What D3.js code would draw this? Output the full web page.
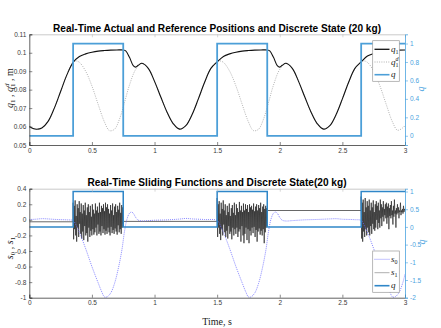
<!DOCTYPE html>
<html>
<head>
<meta charset="utf-8">
<script src="https://cdn.jsdelivr.net/npm/d3@7"></script>
<style>
body { margin: 0; background: #fff; }
</style>
</head>
<body>
<script>
// ---- data ----
var xTicks = [0, 0.5, 1, 1.5, 2, 2.5, 3];
var posTicks = [0.05, 0.06, 0.07, 0.08, 0.09, 0.1, 0.11];
var qTopTicks = [0, 0.2, 0.4, 0.6, 0.8, 1];
var slideTicks = [-1, -0.8, -0.6, -0.4, -0.2, 0, 0.2, 0.4];
var qBotTicks = [-2, -1.5, -1, -0.5, 0, 0.5, 1];

// actual position q1 [t, m]
var q1 = [
  [0, 0.0600], [0.03, 0.0589], [0.06, 0.0585], [0.1, 0.0592], [0.15, 0.0628], [0.2, 0.0700],
  [0.25, 0.0790], [0.3, 0.0880], [0.35, 0.0948], [0.4, 0.0980], [0.45, 0.0994], [0.5, 0.1003],
  [0.55, 0.1009], [0.6, 0.1012], [0.65, 0.1014], [0.7, 0.1015], [0.75, 0.1015], [0.77, 0.1010],
  [0.8, 0.0975], [0.83, 0.0930], [0.85, 0.0922], [0.87, 0.0932], [0.9, 0.0943], [0.95, 0.0915],
  [1.0, 0.0845], [1.05, 0.0760], [1.1, 0.0678], [1.15, 0.0615], [1.2, 0.0586], [1.25, 0.0605],
  [1.3, 0.0665], [1.35, 0.0750], [1.4, 0.0840], [1.45, 0.0915], [1.5, 0.0950], [1.55, 0.0980],
  [1.6, 0.0994], [1.65, 0.1003], [1.7, 0.1009], [1.75, 0.1012], [1.8, 0.1014], [1.85, 0.1015],
  [1.9, 0.1015], [1.92, 0.1010], [1.95, 0.0975], [1.98, 0.0930], [2.0, 0.0922], [2.02, 0.0932],
  [2.05, 0.0943], [2.1, 0.0915], [2.15, 0.0845], [2.2, 0.0760], [2.25, 0.0678], [2.3, 0.0615],
  [2.35, 0.0586], [2.4, 0.0605], [2.45, 0.0665], [2.5, 0.0750], [2.55, 0.0840], [2.6, 0.0915],
  [2.65, 0.0950], [2.7, 0.0982], [2.75, 0.0996], [2.8, 0.1004], [2.85, 0.1009], [2.9, 0.1012],
  [2.95, 0.1014], [3.0, 0.1015]
];

// reference position q1^d [t, m]
var q1d = [
  [0, 0.0600], [0.03, 0.0589], [0.06, 0.0585], [0.1, 0.0592], [0.15, 0.0628], [0.2, 0.0700],
  [0.25, 0.0790], [0.3, 0.0880], [0.35, 0.0950], [0.37, 0.0956], [0.4, 0.0948], [0.45, 0.0900],
  [0.5, 0.0820], [0.55, 0.0720], [0.6, 0.0625], [0.64, 0.0578], [0.68, 0.0585], [0.72, 0.0640],
  [0.76, 0.0730], [0.8, 0.0825], [0.85, 0.0910], [0.9, 0.0943], [0.95, 0.0915], [1.0, 0.0845],
  [1.05, 0.0760], [1.1, 0.0678], [1.15, 0.0615], [1.2, 0.0586], [1.25, 0.0605], [1.3, 0.0665],
  [1.35, 0.0750], [1.4, 0.0840], [1.45, 0.0915], [1.5, 0.0952], [1.52, 0.0956], [1.55, 0.0948],
  [1.6, 0.0900], [1.65, 0.0820], [1.7, 0.0720], [1.75, 0.0625], [1.79, 0.0578], [1.83, 0.0585],
  [1.87, 0.0640], [1.91, 0.0730], [1.95, 0.0825], [2.0, 0.0910], [2.05, 0.0943], [2.1, 0.0915],
  [2.15, 0.0845], [2.2, 0.0760], [2.25, 0.0678], [2.3, 0.0615], [2.35, 0.0586], [2.4, 0.0605],
  [2.45, 0.0665], [2.5, 0.0750], [2.55, 0.0840], [2.6, 0.0915], [2.65, 0.0952], [2.67, 0.0956],
  [2.7, 0.0948], [2.75, 0.0900], [2.8, 0.0820], [2.85, 0.0720], [2.9, 0.0625], [2.94, 0.0580],
  [2.98, 0.0592], [3.0, 0.0605]
];

// discrete state q switching times and levels
var qSwitch = [0, 0.35, 0.75, 1.5, 1.9, 2.65, 3];
var qLevel = [0, 1, 0, 1, 0, 1];

// sliding function s0 [t, value]
var s0 = [
  [0, 0.004], [0.05, 0.008], [0.1, 0.015], [0.15, 0.012], [0.2, 0.006], [0.25, 0.003], [0.3, 0.0],
  [0.35, -0.01], [0.38, -0.09], [0.41, -0.2], [0.45, -0.37], [0.5, -0.6], [0.55, -0.81], [0.58, -0.93],
  [0.6, -0.99], [0.62, -0.99], [0.65, -0.94], [0.68, -0.82], [0.71, -0.63], [0.74, -0.38], [0.76, -0.15],
  [0.78, 0.01], [0.8, 0.085], [0.815, 0.1], [0.83, 0.085], [0.85, 0.03], [0.87, -0.005], [0.9, -0.015],
  [0.95, -0.01], [1.0, -0.005], [1.1, 0.0], [1.2, 0.01], [1.25, 0.018], [1.3, 0.012], [1.4, 0.004],
  [1.5, -0.008], [1.53, -0.09], [1.56, -0.2], [1.6, -0.37], [1.65, -0.6], [1.7, -0.81], [1.73, -0.93],
  [1.75, -0.99], [1.77, -0.99], [1.8, -0.94], [1.83, -0.82], [1.86, -0.63], [1.89, -0.38], [1.91, -0.15],
  [1.93, 0.01], [1.95, 0.085], [1.965, 0.1], [1.98, 0.085], [2.0, 0.03], [2.02, -0.005], [2.05, -0.015],
  [2.1, -0.01], [2.2, 0.0], [2.3, 0.005], [2.4, 0.012], [2.45, 0.015], [2.5, 0.008], [2.6, 0.002],
  [2.65, -0.008], [2.68, -0.09], [2.71, -0.2], [2.75, -0.37], [2.8, -0.6], [2.85, -0.81], [2.88, -0.93],
  [2.9, -0.99], [2.92, -0.99], [2.95, -0.94], [2.98, -0.82], [3.0, -0.7]
];

// sliding function s1: level while q = 0, chattering samples while q = 1
var s1Rest = [[0, 0.35, -0.025], [0.75, 1.5, -0.02], [1.9, 2.65, 0.12]];
var s1Chatter1 = [
  0.22, -0.25, 0.18, -0.12, 0.25, -0.2, 0.05, -0.28, 0.2, -0.1,
  0.15, -0.22, 0.24, -0.05, 0.1, -0.18, 0.21, -0.24, 0.08, -0.15,
  0.19, -0.26, 0.12, -0.08, 0.22, -0.2, 0.06, -0.17, 0.16, -0.28,
  0.2, -0.1, 0.1, -0.22, 0.18, -0.14, 0.04, -0.2, 0.2, -0.12,
  0.13, -0.19, 0.08, -0.16, 0.21, -0.1, 0.12, -0.2, 0.17, -0.06,
  0.09, -0.18, 0.22, -0.15, 0.1, -0.2, 0.18, -0.08, 0.15, -0.17,
  0.2, -0.12, 0.11, -0.19, 0.22, -0.14, 0.16, -0.18, 0.2, -0.1,
  0.14, -0.16, 0.08, -0.2, 0.19, -0.09, 0.12, -0.17, 0.21, -0.13,
  0.06, -0.18, 0.17, -0.11, 0.2, -0.15, 0.1, -0.19, 0.18, -0.07,
  0.13, -0.16, 0.22, -0.12, 0.09, -0.18, 0.19, -0.1, 0.16, -0.05
];
var s1Chatter2 = [
  0.28, -0.22, 0.2, -0.1, 0.24, -0.18, 0.08, -0.26, 0.22, -0.12,
  0.14, -0.2, 0.25, -0.06, 0.12, -0.16, 0.2, -0.22, 0.06, -0.14,
  0.18, -0.24, 0.1, -0.08, 0.21, -0.18, 0.05, -0.15, 0.15, -0.25,
  0.19, -0.1, 0.09, -0.2, 0.22, -0.12, 0.06, -0.18, 0.2, -0.1,
  0.15, -0.22, 0.1, -0.15, 0.23, -0.12, 0.12, -0.28, 0.18, -0.08,
  0.1, -0.2, 0.21, -0.3, 0.12, -0.18, 0.2, -0.1, 0.14, -0.26,
  0.19, -0.12, 0.1, -0.3, 0.2, -0.14, 0.16, -0.2, 0.18, -0.1,
  0.13, -0.17, 0.21, -0.09, 0.11, -0.22, 0.17, -0.13, 0.2, -0.28,
  0.12, -0.15, 0.19, -0.11, 0.15, -0.19, 0.22, -0.14, 0.1, -0.2,
  0.17, -0.12, 0.2, -0.3, 0.14, -0.16, 0.18, -0.1, 0.15, -0.08
];
var s1Chatter3 = [
  0.3, -0.24, 0.22, -0.28, 0.26, -0.15, 0.1, -0.22, 0.28, -0.12,
  0.16, -0.2, 0.24, -0.1, 0.18, -0.16, 0.26, -0.2, 0.12, -0.08,
  0.22, -0.18, 0.16, -0.05, 0.25, -0.12, 0.1, -0.14, 0.2, -0.1,
  0.24, 0.0, 0.18, -0.12, 0.22, -0.04, 0.12, -0.1, 0.26, 0.02,
  0.2, -0.08, 0.16, 0.04, 0.24, -0.02, 0.14, 0.06, 0.2, 0.02,
  0.22, -0.05, 0.17, 0.03, 0.21, -0.12, 0.15, 0.05, 0.19, 0.02,
  0.24, 0.06, 0.12, -0.06, 0.18, 0.04, 0.26, 0.08, 0.12, -0.1,
  0.15, 0.07, 0.2, 0.09, 0.16, 0.02, 0.12, 0.1, 0.22, 0.06,
  0.12, 0.1, 0.14, 0.08, 0.18, 0.1, 0.14, 0.12
];

// ---- layout ----
var W = 441, H = 328;
var LEFT = 29.3, RIGHT = 405;
var TOP1 = 34.3, BOT1 = 145, TOP2 = 188.7, BOT2 = 297.7;
var AX = "#3a3a3a", QBLUE = "#4c9fd8", QAXIS = "#4aa3e0";

var svg = d3.select("body").append("svg")
  .attr("width", W).attr("height", H)
  .style("font-family", "'Liberation Sans', Arial, sans-serif");

var x = d3.scaleLinear().domain([0, 3]).range([LEFT, RIGHT]);
var yPos = d3.scaleLinear().domain([0.05, 0.11]).range([BOT1, TOP1]);
var qTop = d3.scaleLinear().domain([-0.1, 1.1]).range([BOT1, TOP1]);
var ySl = d3.scaleLinear().domain([-1, 0.4]).range([BOT2, TOP2]);
var qBot = d3.scaleLinear().domain([-2, 1.08]).range([BOT2, TOP2]);

// step path for q
var qPts = [];
qLevel.forEach(function (v, i) { qPts.push([qSwitch[i], v], [qSwitch[i + 1], v]); });

function styleAxis(g, color) {
  g.select(".domain").attr("stroke", color).attr("stroke-width", 0.8);
  g.selectAll(".tick line").attr("stroke", color).attr("stroke-width", 0.6);
  g.selectAll(".tick text").attr("fill", color).attr("font-size", 6.5);
}

function drawFrame(top, bottom, yScale, yTicks, qScale, qTicks) {
  // top edge of the box
  svg.append("g").attr("transform", "translate(0," + top + ")")
    .call(d3.axisTop(x).tickValues(xTicks).tickSize(-3).tickFormat(""))
    .call(styleAxis, "#bdbdbd");
  svg.append("g").attr("transform", "translate(0," + bottom + ")")
    .call(d3.axisBottom(x).tickValues(xTicks).tickSize(-3).tickPadding(3).tickFormat(String))
    .call(styleAxis, AX);
  svg.append("g").attr("transform", "translate(" + LEFT + ",0)")
    .call(d3.axisLeft(yScale).tickValues(yTicks).tickSize(-3).tickPadding(3).tickFormat(String))
    .call(styleAxis, AX);
  svg.append("g").attr("transform", "translate(" + RIGHT + ",0)")
    .call(d3.axisRight(qScale).tickValues(qTicks).tickSize(3).tickPadding(2).tickFormat(String))
    .call(styleAxis, QAXIS);
}

function clip(id, top, bottom) {
  svg.append("clipPath").attr("id", id).append("rect")
    .attr("x", LEFT).attr("y", top).attr("width", RIGHT - LEFT).attr("height", bottom - top);
}
clip("c1", TOP1 - 1, BOT1 + 1);
clip("c2", TOP2 - 1, BOT2 + 1);

// ---- top panel: positions ----
var p1 = svg.append("g").attr("clip-path", "url(#c1)");
p1.append("path").datum(q1d)
  .attr("d", d3.line().x(function (d) { return x(d[0]); }).y(function (d) { return yPos(d[1]); }).curve(d3.curveCatmullRom))
  .attr("fill", "none").attr("stroke", "#9e9e9e").attr("stroke-width", 0.8).attr("stroke-dasharray", "1,1.3");
p1.append("path").datum(q1)
  .attr("d", d3.line().x(function (d) { return x(d[0]); }).y(function (d) { return yPos(d[1]); }).curve(d3.curveCatmullRom))
  .attr("fill", "none").attr("stroke", "#111").attr("stroke-width", 1.1);
p1.append("path").datum(qPts)
  .attr("d", d3.line().x(function (d) { return x(d[0]); }).y(function (d) { return qTop(d[1]); }))
  .attr("fill", "none").attr("stroke", QBLUE).attr("stroke-width", 1.8);

drawFrame(TOP1, BOT1, yPos, posTicks, qTop, qTopTicks);

// ---- bottom panel: sliding functions ----
var s1Pts = [];
[s1Chatter1, s1Chatter2, s1Chatter3].forEach(function (vals, k) {
  var r = s1Rest[k];
  s1Pts.push([r[0], r[2]], [r[1], r[2]]);
  var t0 = qSwitch[2 * k + 1], t1 = qSwitch[2 * k + 2];
  vals.forEach(function (v, i) { s1Pts.push([t0 + (t1 - t0) * i / (vals.length - 1), v]); });
});

var p2 = svg.append("g").attr("clip-path", "url(#c2)");
p2.append("path").datum(s1Pts)
  .attr("d", d3.line().x(function (d) { return x(d[0]); }).y(function (d) { return ySl(d[1]); }))
  .attr("fill", "none").attr("stroke", "#262626").attr("stroke-width", 0.7);
p2.append("path").datum(s0)
  .attr("d", d3.line().x(function (d) { return x(d[0]); }).y(function (d) { return ySl(d[1]); }).curve(d3.curveCatmullRom))
  .attr("fill", "none").attr("stroke", "#6b6bff").attr("stroke-width", 0.8).attr("stroke-dasharray", "1,1");
p2.append("path").datum(qPts)
  .attr("d", d3.line().x(function (d) { return x(d[0]); }).y(function (d) { return qBot(d[1]); }))
  .attr("fill", "none").attr("stroke", "#2f86c8").attr("stroke-width", 1.5);

drawFrame(TOP2, BOT2, ySl, slideTicks, qBot, qBotTicks);

// ---- titles and labels ----
svg.append("text").attr("x", 217).attr("y", 31.5).attr("text-anchor", "middle")
  .attr("font-weight", "bold").attr("font-size", 10.5).attr("fill", "#000")
  .attr("textLength", 328).attr("lengthAdjust", "spacingAndGlyphs")
  .text("Real-Time Actual and Reference Positions and Discrete State (20 kg)");
svg.append("text").attr("x", 217).attr("y", 185.7).attr("text-anchor", "middle")
  .attr("font-weight", "bold").attr("font-size", 10.5).attr("fill", "#000")
  .attr("textLength", 259).attr("lengthAdjust", "spacingAndGlyphs")
  .text("Real-Time Sliding Functions and Discrete State(20 kg)");

var serif = "'Liberation Serif', 'DejaVu Serif', serif";

var yl1 = svg.append("text").attr("transform", "translate(13,88) rotate(-90)")
  .attr("text-anchor", "middle").attr("font-family", serif).attr("font-size", 10).attr("fill", "#222");
yl1.append("tspan").attr("font-style", "italic").text("q");
yl1.append("tspan").attr("font-size", 7).attr("dy", 2).text("1");
yl1.append("tspan").attr("dy", -2).text(" , ");
yl1.append("tspan").attr("font-style", "italic").text("q");
yl1.append("tspan").attr("font-size", 7).attr("dy", 2).text("1");
yl1.append("tspan").attr("font-size", 7).attr("font-style", "italic").attr("dx", -3.5).attr("dy", -6).text("d");
yl1.append("tspan").attr("dy", 4).text(" , m");

var yl2 = svg.append("text").attr("transform", "translate(13,248) rotate(-90)")
  .attr("text-anchor", "middle").attr("font-family", serif).attr("font-size", 10).attr("fill", "#222");
yl2.append("tspan").attr("font-style", "italic").text("s");
yl2.append("tspan").attr("font-size", 7).attr("dy", 2).text("0");
yl2.append("tspan").attr("dy", -2).text(" , ");
yl2.append("tspan").attr("font-style", "italic").text("s");
yl2.append("tspan").attr("font-size", 7).attr("dy", 2).text("1");

svg.append("text").attr("transform", "translate(424,89) rotate(-90)").attr("text-anchor", "middle")
  .attr("font-family", serif).attr("font-style", "italic").attr("font-size", 10).attr("fill", QAXIS).text("q");
svg.append("text").attr("transform", "translate(425,242) rotate(-90)").attr("text-anchor", "middle")
  .attr("font-family", serif).attr("font-style", "italic").attr("font-size", 10).attr("fill", QAXIS).text("q");

svg.append("text").attr("x", 217).attr("y", 325).attr("text-anchor", "middle")
  .attr("font-family", serif).attr("font-size", 10).attr("fill", "#222").text("Time, s");

// ---- legends ----
function legend(top, bottom, rows) {
  var g = svg.append("g");
  g.append("rect").attr("x", 372.7).attr("y", top).attr("width", 26.6).attr("height", bottom - top)
    .attr("fill", "#fff").attr("stroke", "#9a9a9a").attr("stroke-width", 0.7);
  rows.forEach(function (r) {
    g.append("line").attr("x1", 374.5).attr("x2", 389.5).attr("y1", r.y).attr("y2", r.y)
      .attr("stroke", r.color).attr("stroke-width", r.w).attr("stroke-dasharray", r.dash || null);
    var t = g.append("text").attr("x", 391).attr("y", r.y + 2.5)
      .attr("font-family", serif).attr("font-size", 9).attr("fill", "#222");
    t.append("tspan").attr("font-style", "italic").text(r.sym);
    if (r.sub) t.append("tspan").attr("font-size", 6).attr("dy", 2).text(r.sub);
    if (r.sup) t.append("tspan").attr("font-size", 6).attr("font-style", "italic").attr("dx", -3).attr("dy", -6).text(r.sup);
  });
}
legend(40.7, 81.3, [
  { y: 49.3, color: "#111", w: 1.3, sym: "q", sub: "1" },
  { y: 62, color: "#9e9e9e", w: 0.8, dash: "1,1.3", sym: "q", sub: "1", sup: "d" },
  { y: 74.7, color: QBLUE, w: 1.6, sym: "q" }
]);
legend(251, 292.3, [
  { y: 259.3, color: "#6b6bff", w: 0.8, dash: "1,1", sym: "s", sub: "0" },
  { y: 272.7, color: "#9a9a9a", w: 0.8, sym: "s", sub: "1" },
  { y: 285.7, color: "#2f86c8", w: 1.6, sym: "q" }
]);
</script>
</body>
</html>
